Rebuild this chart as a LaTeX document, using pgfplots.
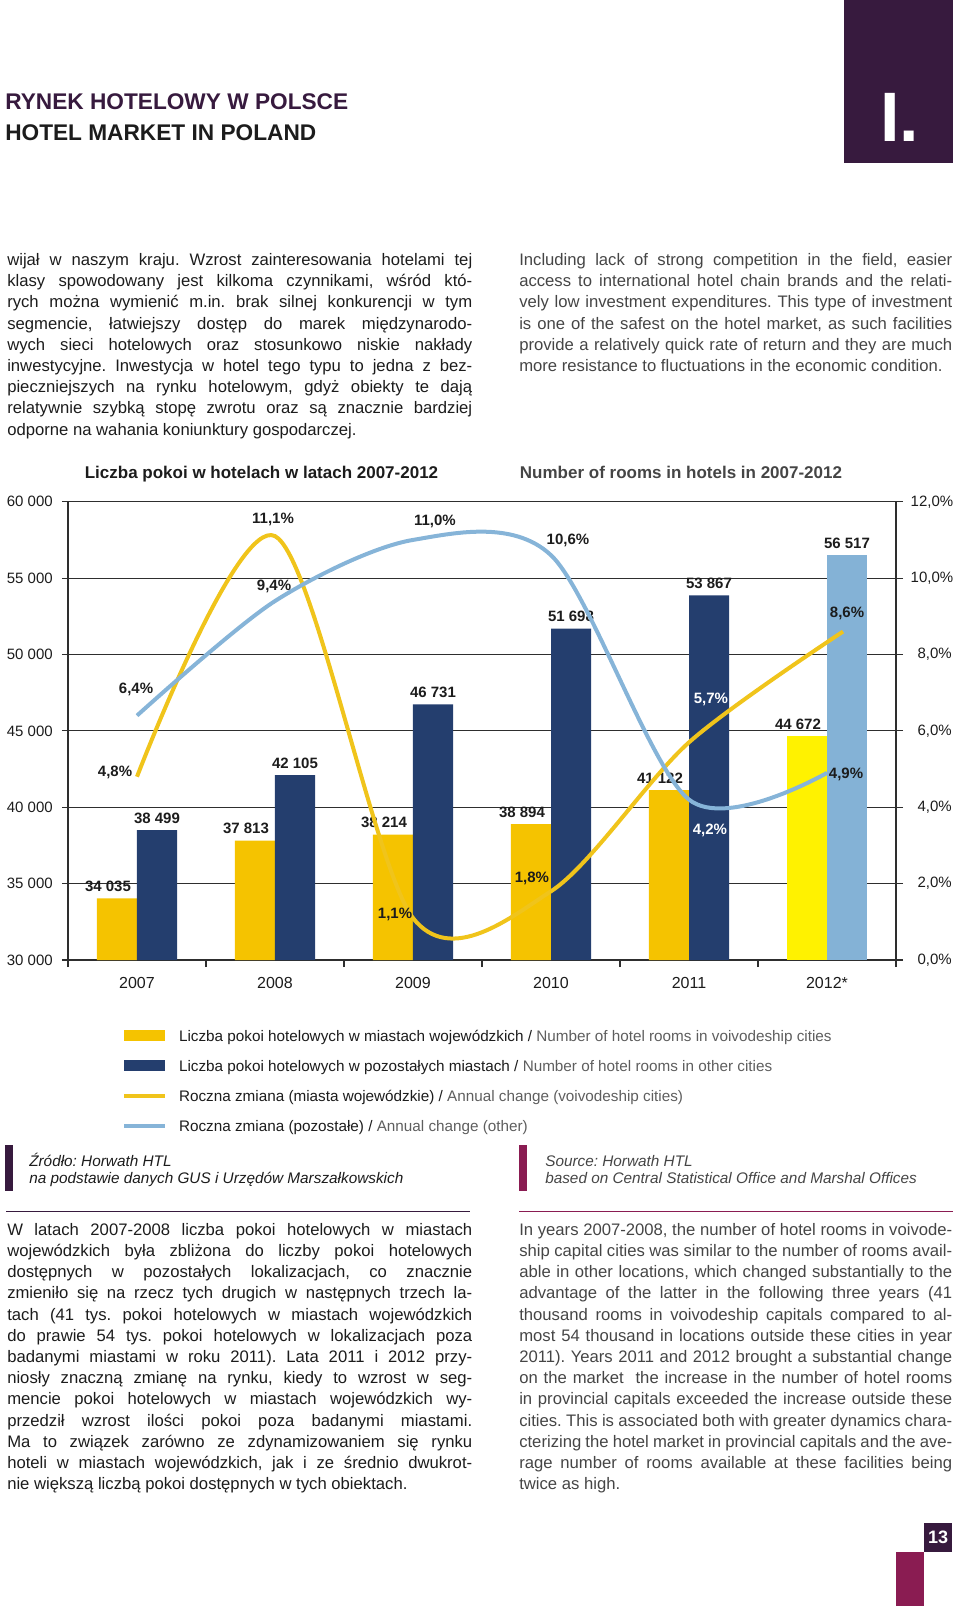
\documentclass[border=0pt]{standalone}
\usepackage{fontspec}
\setmainfont{Liberation Sans}
\usepackage{pgfplots}
\pgfplotsset{compat=1.18}
\definecolor{cPurple}{HTML}{371A3E}
\definecolor{cMagenta}{HTML}{8A1C52}
\definecolor{cYel}{HTML}{F5C300}
\definecolor{cYel2}{HTML}{FFF200}
\definecolor{cBlue}{HTML}{243E6E}
\definecolor{cLBlue}{HTML}{84B2D6}
\definecolor{cYelLine}{HTML}{F0C41B}
\definecolor{cBlueLine}{HTML}{86B4D8}
\definecolor{cText}{HTML}{1C1C1C}
\definecolor{cGray}{HTML}{454545}
\definecolor{cGrayL}{HTML}{5E5E5E}
\definecolor{cAxis}{HTML}{2E2E2E}
\frenchspacing
\newcommand\jl[1]{\makebox[\linewidth][s]{#1}\par}
\newcommand\body{\fontsize{12.5}{15.9}\selectfont}
\begin{document}
\begin{tikzpicture}[x=0.75pt,y=-0.75pt,
  pl/.style={font=\bfseries\fontsize{11.25}{12}\selectfont, text=cText, inner sep=0pt, anchor=center}]
\useasboundingbox (0,0) rectangle (960,1606);
% ---------- header
\fill[cPurple] (844,0) rectangle (953,163);
\node[anchor=base west, inner sep=0, text=white, font=\bfseries\fontsize{52.5}{52.5}\selectfont] at (880,141) {I.};
\node[anchor=base west, inner sep=0, text=cPurple, font=\bfseries\fontsize{17}{17}\selectfont] at (5,109.5) {RYNEK HOTELOWY W POLSCE};
\node[anchor=base west, inner sep=0, text=cText, font=\bfseries\fontsize{17}{17}\selectfont] at (5,140.5) {HOTEL MARKET IN POLAND};
% ---------- top text
\node[anchor=base west, inner sep=0, text=cText] at (7,265.5) {\begin{minipage}[t]{348.75pt}\body\parindent=0pt
\jl{wijał w naszym kraju. Wzrost zainteresowania hotelami tej}
\jl{klasy spowodowany jest kilkoma czynnikami, wśród któ-}
\jl{rych można wymienić m.in. brak silnej konkurencji w tym}
\jl{segmencie, łatwiejszy dostęp do marek międzynarodo-}
\jl{wych sieci hotelowych oraz stosunkowo niskie nakłady}
\jl{inwestycyjne. Inwestycja w hotel tego typu to jedna z bez-}
\jl{pieczniejszych na rynku hotelowym, gdyż obiekty te dają}
\jl{relatywnie szybką stopę zwrotu oraz są znacznie bardziej}
odporne na wahania koniunktury gospodarczej.\par
\end{minipage}};
\node[anchor=base west, inner sep=0, text=cGray] at (519,265.5) {\begin{minipage}[t]{324.75pt}\body\parindent=0pt
\jl{Including lack of strong competition in the field, easier}
\jl{access to international hotel chain brands and the relati-}
\jl{vely low investment expenditures. This type of investment}
\jl{is one of the safest on the hotel market, as such facilities}
\jl{provide a relatively quick rate of return and they are much}
more resistance to fluctuations in the economic condition.\par
\end{minipage}};
% ---------- chart titles
\node[anchor=base, inner sep=0, text=cText, font=\bfseries\fontsize{12.75}{12.75}\selectfont] at (261.5,478) {Liczba pokoi w hotelach w latach 2007-2012};
\node[anchor=base, inner sep=0, text=cGray, font=\bfseries\fontsize{12.75}{12.75}\selectfont] at (681,478) {Number of rooms in hotels in 2007-2012};
\coordinate (axorig) at (68,960);
% ---------- bars (left axis)
\begin{axis}[
  at={(axorig)}, anchor=south west,
  scale only axis, width=621pt, height=343.7pt,
  xmin=-0.5, xmax=5.5, ymin=30000, ymax=60000,
  scaled y ticks=false,
  ytick={30000,35000,...,60000},
  yticklabels={30 000,35 000,40 000,45 000,50 000,55 000,60 000},
  xtick={0,...,5}, xticklabels={2007,2008,2009,2010,2011,2012*},
  minor xtick={-0.5,0.5,...,5.5},
  xtick pos=bottom, ytick pos=left,
  tick align=outside, major tick length=4.5pt, minor tick length=5.25pt,
  tick style={cAxis, line width=0.9pt},
  major x tick style={draw=none},
  ymajorgrids, grid style={cAxis, line width=0.9pt},
  axis line style={cAxis, line width=0.9pt},
  yticklabel style={font=\fontsize{11.25}{12}\selectfont, text=cText, anchor=east, inner xsep=0pt, xshift=-6.75pt},
  xticklabel style={font=\fontsize{12}{12}\selectfont, text=cText, anchor=base, yshift=-16.5pt},
  bar width=30pt,
  /pgf/number format/.cd, 1000 sep={\ }, assume math mode=true,
  /pgfplots/.cd,
  every node near coord/.append style={font=\bfseries\fontsize{11.25}{12}\selectfont, text=cText, anchor=base, inner sep=0pt, yshift=5pt},
  clip=false,
]
\addplot[ybar, bar shift=-15pt, fill=cYel, draw=none, nodes near coords, every node near coord/.append style={xshift=-21.75pt}]
  coordinates {(0,34035) (1,37813) (2,38214) (3,38894) (4,41122)};
\addplot[ybar, bar shift=-15pt, fill=cYel2, draw=none, nodes near coords, every node near coord/.append style={xshift=-21.75pt}]
  coordinates {(5,44672)};
\addplot[ybar, bar shift=15pt, fill=cBlue, draw=none, nodes near coords, every node near coord/.append style={xshift=15pt}]
  coordinates {(0,38499) (1,42105) (2,46731) (3,51698) (4,53867)};
\addplot[ybar, bar shift=15pt, fill=cLBlue, draw=none, nodes near coords, every node near coord/.append style={xshift=15pt}]
  coordinates {(5,56517)};
\end{axis}
% ---------- lines (right axis)
\begin{axis}[
  at={(axorig)}, anchor=south west,
  scale only axis, width=621pt, height=343.7pt,
  xmin=-0.5, xmax=5.5, ymin=0, ymax=12,
  axis x line=none, axis y line*=right,
  ytick={0,2,...,12},
  yticklabels={{0,0\%},{2,0\%},{4,0\%},{6,0\%},{8,0\%},{10,0\%},{12,0\%}},
  tick align=outside, major tick length=5.25pt,
  tick style={cAxis, line width=0.9pt},
  axis line style={cAxis, line width=0.9pt},
  yticklabel style={font=\fontsize{11.25}{12}\selectfont, text=cText, anchor=west, inner xsep=0pt, xshift=5.6pt, text width=30.75pt, align=right},
  clip=false,
  legend cell align=left,
  legend style={at={(0.0658,-0.1529)}, anchor=north west, draw=none, fill=none, inner sep=0pt, outer sep=0pt,
    row sep=11.8pt, column sep=9pt, font=\fontsize{11.45}{13}\selectfont,
    nodes={inner sep=0pt, text height=8.3pt, text depth=2.6pt, text=cText}},
]
\addlegendimage{legend image code/.code={\path[fill=cYel, draw=none, overlay] (0pt,-2.75pt) rectangle (30.75pt,5.75pt); \path[draw=none, fill=none] (0pt,0.15pt) rectangle (30.75pt,2.85pt);}}
\addlegendentry{Liczba pokoi hotelowych w miastach wojewódzkich / {\color{cGrayL}Number of hotel rooms in voivodeship cities}}
\addlegendimage{legend image code/.code={\path[fill=cBlue, draw=none, overlay] (0pt,-2.75pt) rectangle (30.75pt,5.75pt); \path[draw=none, fill=none] (0pt,0.15pt) rectangle (30.75pt,2.85pt);}}
\addlegendentry{Liczba pokoi hotelowych w pozostałych miastach / {\color{cGrayL}Number of hotel rooms in other cities}}
\addplot[smooth, line width=3pt, color=cYelLine,
  legend image code/.code={\draw[line width=2.7pt] (0pt,1.5pt) -- (30.75pt,1.5pt);}]
  coordinates {(0,4.8) (1,11.1) (2,1.1) (3,1.8) (4,5.7) (5.116,8.6)};
\addlegendentry{Roczna zmiana (miasta wojewódzkie) / {\color{cGrayL}Annual change (voivodeship cities)}}
\addplot[smooth, line width=3pt, color=cBlueLine,
  legend image code/.code={\draw[line width=2.7pt] (0pt,1.5pt) -- (30.75pt,1.5pt);}]
  coordinates {(0,6.4) (1,9.4) (2,11.0) (3,10.6) (4,4.2) (5,4.9)};
\addlegendentry{Roczna zmiana (pozostałe) / {\color{cGrayL}Annual change (other)}}
\node[pl] at (axis cs:-0.159,4.922) {4,8\%};
\node[pl] at (axis cs:0.986,11.547) {11,1\%};
\node[pl] at (axis cs:1.870,1.204) {1,1\%};
\node[pl] at (axis cs:2.862,2.147) {1,8\%};
\node[pl, text=white] at (axis cs:4.159,6.834) {5,7\%};
\node[pl] at (axis cs:5.145,9.086) {8,6\%};
\node[pl] at (axis cs:-0.007,7.096) {6,4\%};
\node[pl] at (axis cs:0.993,9.793) {9,4\%};
\node[pl] at (axis cs:2.159,11.476) {11,0\%};
\node[pl] at (axis cs:3.123,10.979) {10,6\%};
\node[pl, text=white] at (axis cs:4.152,3.386) {4,2\%};
\node[pl] at (axis cs:5.138,4.862) {4,9\%};
\end{axis}
% ---------- sources
\fill[cPurple] (5,1145) rectangle (13,1191);
\node[anchor=base west, inner sep=0, text=cText, font=\itshape\fontsize{11.5}{12}\selectfont] at (29,1166.4) {Źródło: Horwath HTL};
\node[anchor=base west, inner sep=0, text=cText, font=\itshape\fontsize{11.5}{12}\selectfont] at (29,1183.4) {na podstawie danych GUS i Urzędów Marszałkowskich};
\fill[cMagenta] (519,1145) rectangle (527,1191);
\node[anchor=base west, inner sep=0, text=cGray, font=\itshape\fontsize{11.5}{12}\selectfont] at (545,1166.4) {Source: Horwath HTL};
\node[anchor=base west, inner sep=0, text=cGray, font=\itshape\fontsize{11.5}{12}\selectfont] at (545,1183.4) {based on Central Statistical Office and Marshal Offices};
\draw[cPurple, line width=1.3pt] (6,1211.5) -- (470,1211.5);
\draw[cMagenta, line width=1.3pt] (519,1211.5) -- (953,1211.5);
% ---------- bottom text
\node[anchor=base west, inner sep=0, text=cText] at (7,1235.2) {\begin{minipage}[t]{348.75pt}\body\parindent=0pt
\jl{W latach 2007-2008 liczba pokoi hotelowych w miastach}
\jl{wojewódzkich była zbliżona do liczby pokoi hotelowych}
\jl{dostępnych w pozostałych lokalizacjach, co znacznie}
\jl{zmieniło się na rzecz tych drugich w następnych trzech la-}
\jl{tach (41 tys. pokoi hotelowych w miastach wojewódzkich}
\jl{do prawie 54 tys. pokoi hotelowych w lokalizacjach poza}
\jl{badanymi miastami w roku 2011). Lata 2011 i 2012 przy-}
\jl{niosły znaczną zmianę na rynku, kiedy to wzrost w seg-}
\jl{mencie pokoi hotelowych w miastach wojewódzkich wy-}
\jl{przedził wzrost ilości pokoi poza badanymi miastami.}
\jl{Ma to związek zarówno ze zdynamizowaniem się rynku}
\jl{hoteli w miastach wojewódzkich, jak i ze średnio dwukrot-}
nie większą liczbą pokoi dostępnych w tych obiektach.\par
\end{minipage}};
\node[anchor=base west, inner sep=0, text=cGray] at (519,1235.2) {\begin{minipage}[t]{324.75pt}\body\parindent=0pt
\jl{In years 2007-2008, the number of hotel rooms in voivode-}
\jl{ship capital cities was similar to the number of rooms avail-}
\jl{able in other locations, which changed substantially to the}
\jl{advantage of the latter in the following three years (41}
\jl{thousand rooms in voivodeship capitals compared to al-}
\jl{most 54 thousand in locations outside these cities in year}
\jl{2011). Years 2011 and 2012 brought a substantial change}
\jl{on the market \ the increase in the number of hotel rooms}
\jl{in provincial capitals exceeded the increase outside these}
\jl{cities. This is associated both with greater dynamics chara-}
\jl{cterizing the hotel market in provincial capitals and the ave-}
\jl{rage number of rooms available at these facilities being}
twice as high.\par
\end{minipage}};
% ---------- page number
\fill[cPurple] (924,1523) rectangle (952,1552);
\node[anchor=center, inner sep=0, text=white, font=\bfseries\fontsize{13.5}{13.5}\selectfont] at (938,1537.5) {13};
\fill[cMagenta] (896,1552) rectangle (924,1606);
\end{tikzpicture}
\end{document}
